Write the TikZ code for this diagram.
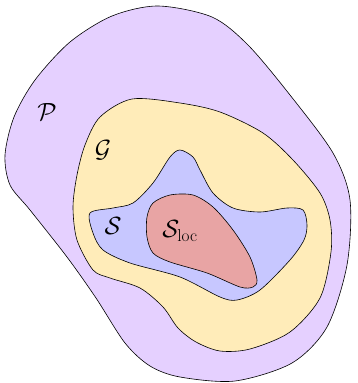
\documentclass[tikz,border=0pt]{standalone}
\begin{document}
\begin{tikzpicture}[x=1pt,y=-1pt,
  region/.style={draw=black,line width=0.6pt,line join=round},
  lbl/.style={inner sep=0pt,font=\fontsize{23}{27}\selectfont}]
\definecolor{cP}{RGB}{229,208,255}
\definecolor{cG}{RGB}{255,236,185}
\definecolor{cS}{RGB}{199,199,255}
\definecolor{cL}{RGB}{232,164,164}
\useasboundingbox (0,0) rectangle (357,383);
\draw[region,fill=cP] plot[smooth cycle] coordinates {(158,6) (212,17) (248,45) (290,95) (333,153) (350,200) (347,265) (327,327) (292,363) (235,381) (180,377) (150,366) (125,343) (96,298) (67,257) (30,210) (10,185) (5,155) (14,117) (35,80) (70,42) (112,16)};
\draw[region,fill=cG] plot[smooth cycle] coordinates {(132,99) (180,103) (220,112) (263,133) (293,160) (320,193) (330,220) (331,252) (320,298) (290,332) (250,349) (220,351) (196,342) (178,328) (163,307) (140,288) (110,278) (93,270) (77,240) (73,207) (77,175) (85,145) (100,117)};
\draw[region,fill=cS] plot[smooth cycle] coordinates {(180,150) (193,157) (200,170) (213,193) (233,208) (260,212) (287,208) (303,210) (307,225) (304,240) (290,260) (260,290) (237,300) (220,297) (180,277) (130,263) (103,250) (93,233) (90,213) (113,208) (133,203) (153,183) (170,157)};
\draw[region,fill=cL] plot[smooth cycle] coordinates {(170,195) (193,195) (213,207) (233,230) (250,257) (257,280) (253,287) (240,287) (207,273) (170,262) (153,253) (147,237) (147,217) (153,203)};
\node[lbl] (P) at (47,112) {$\mathcal{P}$};
\node[lbl] (G) at (103,150) {$\mathcal{G}$};
\node[lbl] (S) at (113,226) {$\mathcal{S}$};
\node[lbl] (L) at (180,231) {$\mathcal{S}_{\mathrm{loc}}$};
\end{tikzpicture}
\end{document}
